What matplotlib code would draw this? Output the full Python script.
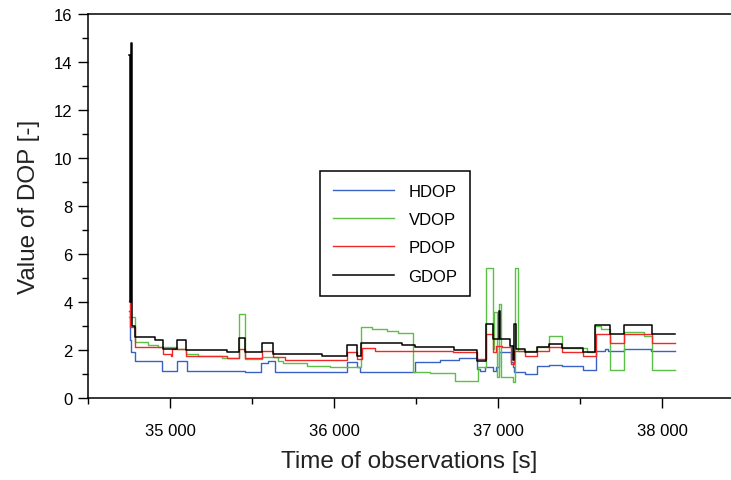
import matplotlib.pyplot as plt
from matplotlib.ticker import MultipleLocator, FuncFormatter

plt.rcParams['font.family'] = ['Liberation Sans', 'DejaVu Sans']

# step series: value holds from t[i] until t[i+1]
t_hdop = [34750, 34758, 34765, 34787, 34949, 35041, 35102, 35457, 35553, 35600,
          35640, 36077, 36142, 36160, 36494, 36646, 36759, 36870, 36890, 36921,
          36972, 36990, 37005, 37077, 37090, 37100, 37165, 37236, 37313, 37388,
          37520, 37596, 37652, 37672, 37768, 37931, 38080]
hdop = [3.64, 2.4, 1.9, 1.55, 1.14, 1.55, 1.14, 1.07, 1.46, 1.55,
        1.07, 1.51, 1.28, 1.07, 1.51, 1.6, 1.65, 1.21, 1.14, 1.28,
        1.14, 1.28, 1.9, 1.49, 1.29, 1.07, 1.0, 1.32, 1.38, 1.32,
        1.17, 1.97, 2.04, 1.97, 2.04, 1.97, 1.97]

t_vdop = [34750, 34787, 34863, 34927, 35040, 35098, 35170, 35315, 35423, 35457,
          35560, 35658, 35691, 35833, 35976, 36163, 36230, 36321, 36392, 36484,
          36585, 36738, 36880, 36927, 36968, 36978, 36992, 37005, 37017, 37090,
          37105, 37120, 37236, 37313, 37388, 37540, 37591, 37625, 37683, 37768,
          37890, 37937, 38080]
vdop = [3.36, 2.32, 2.2, 2.11, 2.05, 1.85, 1.77, 1.65, 3.5, 1.63,
        1.7, 1.55, 1.46, 1.35, 1.28, 2.94, 2.88, 2.78, 2.71, 1.1,
        1.04, 0.72, 1.28, 5.4, 2.04, 3.57, 0.86, 3.92, 0.86, 0.65,
        5.4, 1.97, 2.11, 2.57, 2.08, 1.9, 2.99, 2.88, 1.17, 2.74,
        2.57, 1.17, 1.17]

t_pdop = [34750, 34758, 34787, 34960, 35006, 35015, 35098, 35350, 35423, 35457,
          35559, 35628, 35701, 36077, 36142, 36169, 36250, 36728, 36870, 36927,
          36968, 36990, 37025, 37080, 37100, 37165, 37236, 37313, 37388, 37520,
          37596, 37683, 37768, 37937, 38080]
pdop = [4.05, 2.94, 2.14, 1.83, 1.75, 2.04, 1.77, 1.65, 2.04, 1.65,
        1.97, 1.7, 1.6, 1.93, 1.63, 2.07, 1.97, 1.9, 1.63, 2.67,
        1.9, 2.18, 2.11, 1.42, 1.97, 1.77, 1.97, 2.11, 1.9, 1.74,
        2.67, 2.29, 2.67, 2.29, 2.29]

t_gdop = [34750, 34756, 34760, 34766, 34787, 34909, 34955, 35041, 35098, 35350,
          35423, 35455, 35559, 35630, 35925, 36077, 36142, 36163, 36413, 36494,
          36732, 36870, 36927, 36968, 37005, 37012, 37073, 37090, 37100, 37108,
          37165, 37236, 37313, 37388, 37520, 37591, 37683, 37768, 37937, 38080]
gdop = [14.3, 4.0, 14.8, 3.0, 2.53, 2.43, 2.04, 2.43, 2.01, 1.93,
        2.5, 1.93, 2.29, 1.83, 1.74, 2.2, 1.77, 2.29, 2.2, 2.11,
        2.01, 1.55, 3.08, 2.46, 3.64, 2.46, 2.18, 1.6, 3.08, 2.04,
        1.9, 2.11, 2.25, 2.08, 1.93, 3.04, 2.67, 3.04, 2.67, 2.67]

fig = plt.figure(figsize=(7.31, 4.81), dpi=100)
ax = fig.add_axes([88 / 731, 82 / 481, 643 / 731, 384 / 481])

ax.step(t_hdop, hdop, where='post', color='#3a62c4', lw=1.0, label='HDOP')
ax.step(t_vdop, vdop, where='post', color='#5cc046', lw=1.0, label='VDOP')
ax.step(t_pdop, pdop, where='post', color='#f02828', lw=1.0, label='PDOP')
ax.step(t_gdop, gdop, where='post', color='black', lw=1.1, label='GDOP')

ax.set_xlim(34500, 38420)
ax.set_ylim(0, 16)
ax.xaxis.set_major_locator(MultipleLocator(1000))
ax.xaxis.set_minor_locator(MultipleLocator(500))
ax.yaxis.set_major_locator(MultipleLocator(2))
ax.yaxis.set_minor_locator(MultipleLocator(1))
ax.xaxis.set_major_formatter(FuncFormatter(lambda x, p: '{:,.0f}'.format(x).replace(',', ' ')))

ax.tick_params(which='both', direction='out', width=1, labelsize=12, colors='black')
ax.tick_params(which='major', length=7, pad=11)
ax.tick_params(which='minor', length=4)
ax.tick_params(axis='y', which='major', pad=4)
ax.spines['right'].set_visible(False)
for s in ['left', 'bottom', 'top']:
    ax.spines[s].set_linewidth(1.1)

ax.set_xlabel('Time of observations [s]', fontsize=17.5, color='#222222', labelpad=9)
ax.set_ylabel('Value of DOP [-]', fontsize=17.5, color='#222222', labelpad=10)

leg = ax.legend(loc='upper left', bbox_to_anchor=(0.361, 0.591), borderaxespad=0,
                fontsize=12, handlelength=3.7, handletextpad=0.85, labelspacing=0.8,
                fancybox=False, edgecolor='black', framealpha=1, borderpad=0.75)
leg.get_frame().set_linewidth(1.1)

plt.savefig('out.png', dpi=100)
